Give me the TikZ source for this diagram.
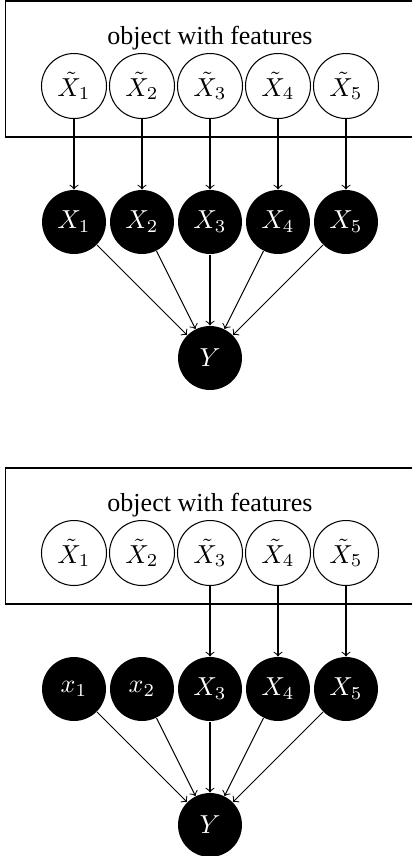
\documentclass[tikz,border=0pt]{standalone}
\usepackage{fontspec}
\setmainfont{Liberation Serif}
\begin{document}
\begin{tikzpicture}[x=0.3846pt,y=-0.3846pt,
  objbox/.style={draw,rectangle,minimum width=157.3pt,minimum height=52.3pt,inner sep=0pt},
  obs/.style={circle,draw,minimum size=25pt,inner sep=0pt},
  lat/.style={circle,fill=black,text=white,minimum size=24.6pt,inner sep=0pt},
  arr/.style={->}]
\useasboundingbox (0,0) rectangle (412,856);
\clip (0,0) rectangle (412,856);
% ---------- panel 1 ----------
\node[objbox] (box1) at (210,69) {};
\node (lab1) at (210,38) {object with features};
\node[obs] (ta1) at (74,86)  {$\tilde X_1$};
\node[obs] (ta2) at (142,86) {$\tilde X_2$};
\node[obs] (ta3) at (210,86) {$\tilde X_3$};
\node[obs] (ta4) at (278,86) {$\tilde X_4$};
\node[obs] (ta5) at (346,86) {$\tilde X_5$};
\node[lat] (xa1) at (74,222)  {$X_1$};
\node[lat] (xa2) at (142,222) {$X_2$};
\node[lat] (xa3) at (210,222) {$X_3$};
\node[lat] (xa4) at (278,222) {$X_4$};
\node[lat] (xa5) at (346,222) {$X_5$};
\node[lat] (ya) at (210,358) {$Y$};
\foreach \i in {1,...,5} {
  \draw[arr] (ta\i) -- (xa\i);
  \draw[arr] (xa\i) -- (ya);
}
% ---------- panel 2 ----------
\node[objbox] (box2) at (210,536) {};
\node (lab2) at (210,505) {object with features};
\node[obs] (tb1) at (74,553)  {$\tilde X_1$};
\node[obs] (tb2) at (142,553) {$\tilde X_2$};
\node[obs] (tb3) at (210,553) {$\tilde X_3$};
\node[obs] (tb4) at (278,553) {$\tilde X_4$};
\node[obs] (tb5) at (346,553) {$\tilde X_5$};
\node[lat] (xb1) at (74,689)  {$x_1$};
\node[lat] (xb2) at (142,689) {$x_2$};
\node[lat] (xb3) at (210,689) {$X_3$};
\node[lat] (xb4) at (278,689) {$X_4$};
\node[lat] (xb5) at (346,689) {$X_5$};
\node[lat] (yb) at (210,825) {$Y$};
\foreach \i in {3,4,5} {
  \draw[arr] (tb\i) -- (xb\i);
}
\foreach \i in {1,...,5} {
  \draw[arr] (xb\i) -- (yb);
}
\end{tikzpicture}
\end{document}
